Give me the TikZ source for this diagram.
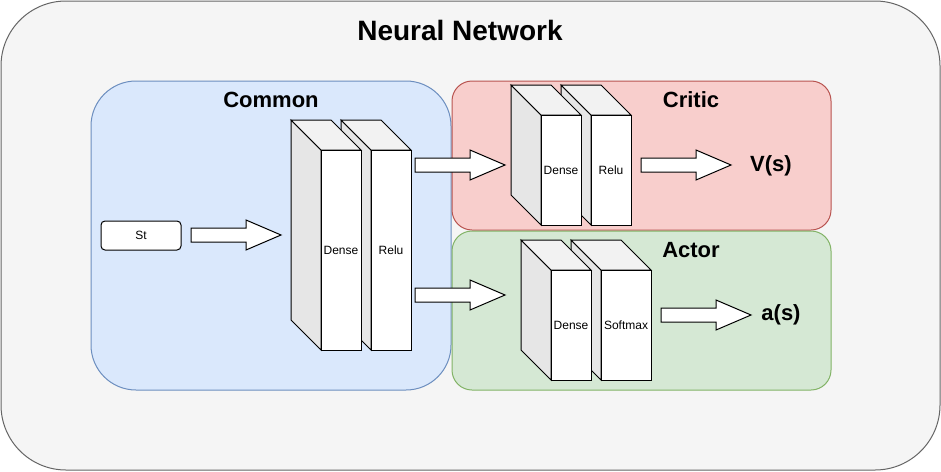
\documentclass[tikz,border=0pt]{standalone}
\usepackage{fontspec}
\setmainfont{Liberation Sans}
\definecolor{outerfill}{HTML}{F5F5F5}
\definecolor{outerline}{HTML}{666666}
\definecolor{comfill}{HTML}{DAE8FC}
\definecolor{comline}{HTML}{6C8EBF}
\definecolor{crifill}{HTML}{F8CECC}
\definecolor{criline}{HTML}{B85450}
\definecolor{actfill}{HTML}{D5E8D4}
\definecolor{actline}{HTML}{82B366}
\definecolor{sidegray}{HTML}{E6E6E6}
\definecolor{topgray}{HTML}{F2F2F2}

% layer block: name, x, y (front top-left), width, height, label
\newcommand{\layer}[6]{%
  \filldraw[fill=sidegray] (#2,#3) -- ++(-30,-30) -- ++(0,#5) -- ++(30,30) -- cycle;
  \filldraw[fill=topgray] (#2,#3) -- ++(-30,-30) -- ++(#4,0) -- ++(30,30) -- cycle;
  \node[front, minimum width=#4pt, minimum height=#5pt] (#1) at ({#2+#4/2},{#3+#5/2}) {#6};
}
% block arrow: name, x (tail), y (middle)
\newcommand{\blockarr}[3]{%
  \coordinate (#1) at (#2,#3);
  \filldraw[fill=white] (#1) ++(0,-7) -- ++(55,0) -- ++(0,-8) -- ++(35,15)
    -- ++(-35,15) -- ++(0,-8) -- ++(-55,0) -- cycle;
}

\begin{document}
\begin{tikzpicture}[x=1pt, y=-1pt, line width=1pt, line join=miter,
    front/.style={draw, fill=white, inner sep=0pt, font=\fontsize{12}{14}\selectfont},
    title/.style={font=\fontsize{22}{26}\selectfont\bfseries},
    outlabel/.style={font=\fontsize{22}{26}\selectfont\bfseries}]
  \useasboundingbox (0,0) rectangle (941,471);
  % containers
  \draw[fill=outerfill, draw=outerline, rounded corners=65] (1,1) rectangle (940,470);
  \node[font=\fontsize{28}{32}\selectfont\bfseries] (net) at (460,30) {Neural Network};
  \draw[fill=comfill, draw=comline, rounded corners=45] (91,81) rectangle (451,390);
  \draw[fill=crifill, draw=criline, rounded corners=20] (452,81) rectangle (831,230);
  \draw[fill=actfill, draw=actline, rounded corners=20] (452,231) rectangle (831,390);
  \node[title] (common) at (271,100) {Common};
  \node[title] (critic) at (691,100) {Critic};
  \node[title] (actor) at (691,250) {Actor};

  % input
  \node[draw, fill=white, rounded corners=4, minimum width=80pt, minimum height=29pt,
    inner sep=0pt, font=\fontsize{12}{14}\selectfont] (st) at (141,235.5) {St};
  \blockarr{a0}{191}{235}

  % common layers
  \layer{crelu}{371}{150}{40}{200}{Relu}
  \layer{cdense}{321}{150}{40}{200}{Dense}
  \blockarr{a1}{415}{165}
  \blockarr{a2}{415}{295}

  % critic head
  \layer{vrelu}{591}{115}{40}{110}{Relu}
  \layer{vdense}{541}{115}{40}{110}{Dense}
  \blockarr{a3}{641}{165}
  \node[outlabel] (vs) at (771,166) {V(s)};

  % actor head
  \layer{psoft}{601}{270}{50}{110}{Softmax}
  \layer{pdense}{551}{270}{40}{110}{Dense}
  \blockarr{a4}{661}{315}
  \node[outlabel] (as) at (781,315) {a(s)};
\end{tikzpicture}
\end{document}
